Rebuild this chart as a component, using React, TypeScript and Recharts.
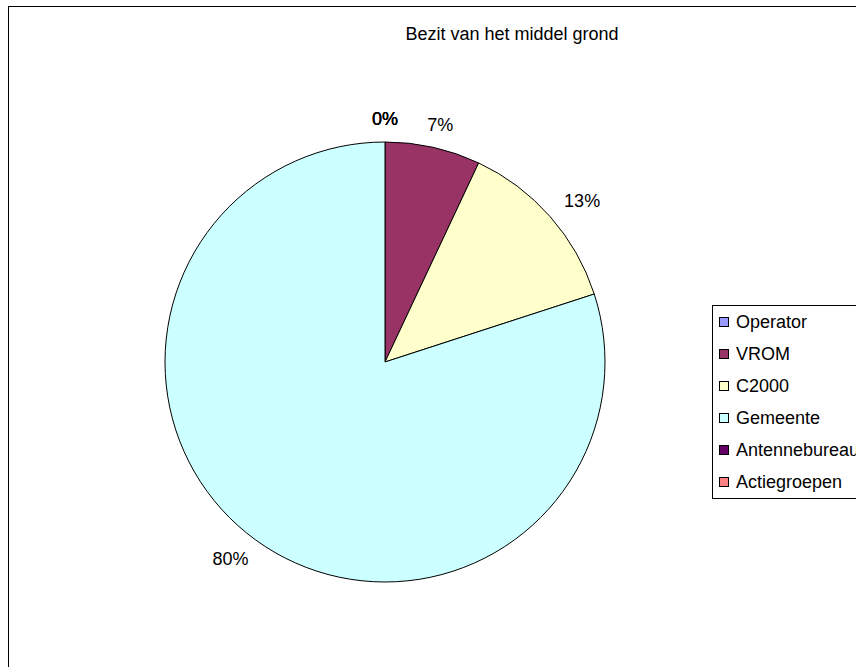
import { PieChart, Pie, Cell, Legend } from "recharts";

const categories = ["Operator", "VROM", "C2000", "Gemeente", "Antennebureau", "Actiegroepen"];
const values = [0, 7, 13, 80, 0, 0];
const colors = ["#9999FF", "#993366", "#FFFFCC", "#CCFFFF", "#660066", "#FF8080"];
const title = "Bezit van het middel grond";

const data = categories.map((name, i) => ({ name, value: values[i] }));

const RAD = Math.PI / 180;
const FONT = "'Liberation Sans', Arial, sans-serif";

// Excel-style label: box pushed outward from a point just outside the rim
function renderLabel(props: any) {
  const { cx, cy, midAngle, outerRadius, percent } = props;
  const text = `${Math.round(percent * 100)}%`;
  const cos = Math.cos(-midAngle * RAD);
  const sin = Math.sin(-midAngle * RAD);
  const r = outerRadius + 14;
  const halfW = text.length * 6;
  const x = cx + r * cos + cos * halfW * 1.6;
  const y = cy + r * sin + sin * 9;
  return (
    <text x={x} y={y} textAnchor="middle" dominantBaseline="central" fill="#000" fontSize={18} fontFamily={FONT}>
      {text}
    </text>
  );
}

function LegendBox() {
  return (
    <div
      style={{
        border: "1px solid #000",
        background: "#fff",
        padding: "0 30px 0 6px",
        fontFamily: FONT,
        fontSize: 18,
      }}
    >
      {categories.map((c, i) => (
        <div key={c} style={{ display: "flex", alignItems: "center", height: 32, whiteSpace: "nowrap" }}>
          <span
            style={{
              width: 8,
              height: 8,
              border: "1px solid #000",
              background: colors[i],
              marginRight: 7,
              display: "inline-block",
            }}
          />
          {c}
        </div>
      ))}
    </div>
  );
}

export default function App() {
  return (
    <div style={{ position: "absolute", left: 0, top: 0, width: 856, height: 667, overflow: "hidden", background: "#fff" }}>
      <div style={{ position: "absolute", left: 8, top: 6, width: 900, height: 700, border: "1px solid #000", boxSizing: "border-box" }} />
      <div
        style={{
          position: "absolute",
          left: 0,
          width: 1024,
          top: 24,
          textAlign: "center",
          fontFamily: FONT,
          fontSize: 18,
          color: "#000",
        }}
      >
        {title}
      </div>
      <PieChart
        width={856}
        height={667}
        margin={{ top: 0, right: 0, bottom: 0, left: 0 }}
        style={{ position: "absolute", left: 0, top: 0 }}
      >
        <Pie
          data={data}
          dataKey="value"
          nameKey="name"
          cx={385}
          cy={362}
          outerRadius={220}
          startAngle={90}
          endAngle={-270}
          stroke="#000"
          strokeWidth={1}
          label={renderLabel}
          labelLine={false}
          isAnimationActive={false}
        >
          {data.map((d, i) => (
            <Cell key={d.name} fill={colors[i]} />
          ))}
        </Pie>
        <Legend
          layout="vertical"
          wrapperStyle={{ position: "absolute", left: 712, top: 305, width: "auto" }}
          content={() => <LegendBox />}
        />
      </PieChart>
    </div>
  );
}
